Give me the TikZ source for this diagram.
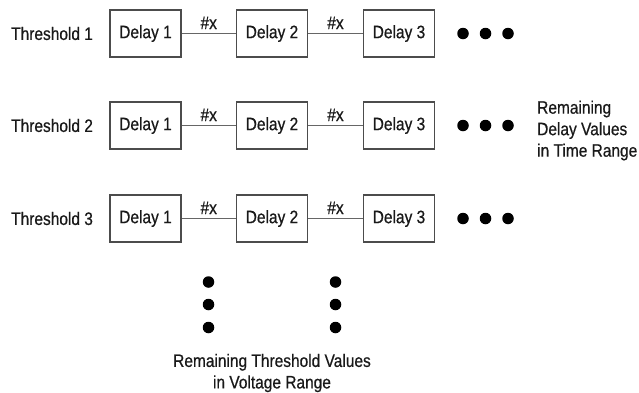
\documentclass[tikz,border=0pt]{standalone}
\usepackage{fontspec}
\setmainfont[FakeStretch=0.86,FakeBold=0.6]{Liberation Sans}
\begin{document}
\begin{tikzpicture}[x=1pt,y=-1pt,
  every node/.style={font=\fontsize{18}{21.5}\selectfont, text=black!90},
  delaybox/.style={draw=black!70, line width=1.2pt, minimum width=71pt, minimum height=47pt, inner sep=0pt},
  link/.style={draw=black!60, line width=1pt},
  lbl/.style={anchor=west, inner sep=0pt},
  dotc/.style={circle, fill=black, inner sep=0pt, minimum size=11.5pt}]
\useasboundingbox (0,0) rectangle (639,392);
\foreach \r/\y in {1/33.5, 2/125.5, 3/218.5} {
  \node[lbl] (th\r) at (11,\y) {Threshold \r};
  \node[delaybox] (d\r a) at (145.5,\y) {Delay 1};
  \node[delaybox] (d\r b) at (272,\y) {Delay 2};
  \node[delaybox] (d\r c) at (399,\y) {Delay 3};
  \draw[link] (d\r a) -- node[above=4pt, inner sep=0pt] (x\r a) {\#x} (d\r b);
  \draw[link] (d\r b) -- node[above=4pt, inner sep=0pt] (x\r b) {\#x} (d\r c);
  \node[dotc] (p\r a) at (463,\y) {};
  \node[dotc] (p\r b) at (485.5,\y) {};
  \node[dotc] (p\r c) at (508,\y) {};
}
\node[anchor=west, align=left, inner sep=0pt] (rem) at (537,130.5) {Remaining\\Delay Values\\in Time Range};
\foreach \i/\y in {1/282, 2/304.5, 3/327.5} {
  \node[dotc] (va\i) at (208.5,\y) {};
  \node[dotc] (vb\i) at (335.5,\y) {};
}
\node[align=center, inner sep=0pt] (remt) at (272,373) {Remaining Threshold Values\\in Voltage Range};
\end{tikzpicture}
\end{document}
